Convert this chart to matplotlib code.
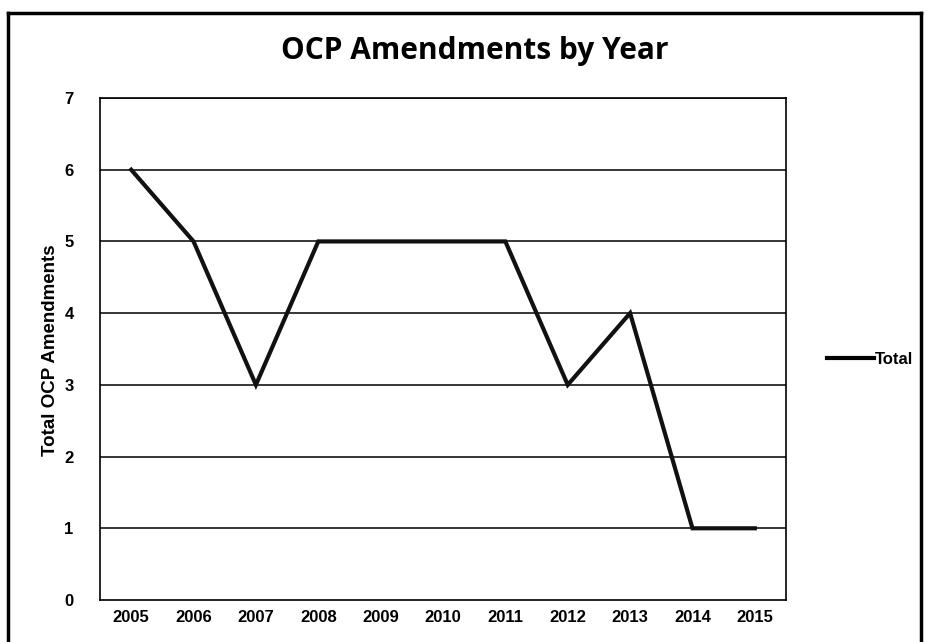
import matplotlib
matplotlib.use("Agg")
import matplotlib.pyplot as plt
from matplotlib.lines import Line2D

years = ["2005", "2006", "2007", "2008", "2009", "2010", "2011", "2012", "2013", "2014", "2015"]
totals = [6, 5, 3, 5, 5, 5, 5, 3, 4, 1, 1]
y_ticks = [0, 1, 2, 3, 4, 5, 6, 7]

fig = plt.figure(figsize=(9.27, 6.42), dpi=100)
W, H = 927, 642

# outer frame
for xs, ys in [([8/W, 8/W], [0, 1-13/H]), ([8/W, 921/W], [1-13/H, 1-13/H]), ([921/W, 921/W], [1-13/H, 0])]:
    fig.add_artist(Line2D(xs, ys, transform=fig.transFigure, color="black", lw=2.5))

ax = fig.add_axes([100/W, 1-600/H, 686/W, 502/H])
x = list(range(len(years)))
ax.plot(x, totals, color="#111111", lw=3.0, solid_joinstyle="miter", label="Total")
ax.set_xlim(-0.5, len(years)-0.5)
ax.set_ylim(0, 7)
ax.set_yticks(y_ticks)
ax.set_xticks(x)
ax.set_xticklabels(years)
for yv in y_ticks[1:]:
    ax.axhline(yv, color="black", lw=1.1, zorder=0)
for s in ax.spines.values():
    s.set_color("black")
    s.set_linewidth(1.2)
ax.tick_params(axis="y", length=0, pad=19, labelsize=12)
ax.tick_params(axis="x", length=0, pad=7, labelsize=12)
for lab in ax.get_xticklabels() + ax.get_yticklabels():
    lab.set_fontfamily("Liberation Sans")
    lab.set_fontweight("bold")

fig.text(51/W, 1-350/H, "Total OCP Amendments", rotation=90, ha="center", va="center",
         fontfamily="Liberation Sans", fontweight="bold", fontsize=13.5)

fig.text(475/W, 1-59/H, "OCP Amendments by Year", ha="center", va="baseline",
         fontfamily="Open Sans", fontweight="bold", fontsize=21.5)

leg = fig.legend(handles=[Line2D([], [], color="black", lw=3.0)], labels=["Total"],
                 loc="center left", bbox_to_anchor=(812/W, 1-359/H), frameon=False,
                 handlelength=2.8, handletextpad=0.05,
                 prop={"family": "Liberation Sans", "weight": "bold", "size": 12})

fig.savefig("out.png", dpi=100)
